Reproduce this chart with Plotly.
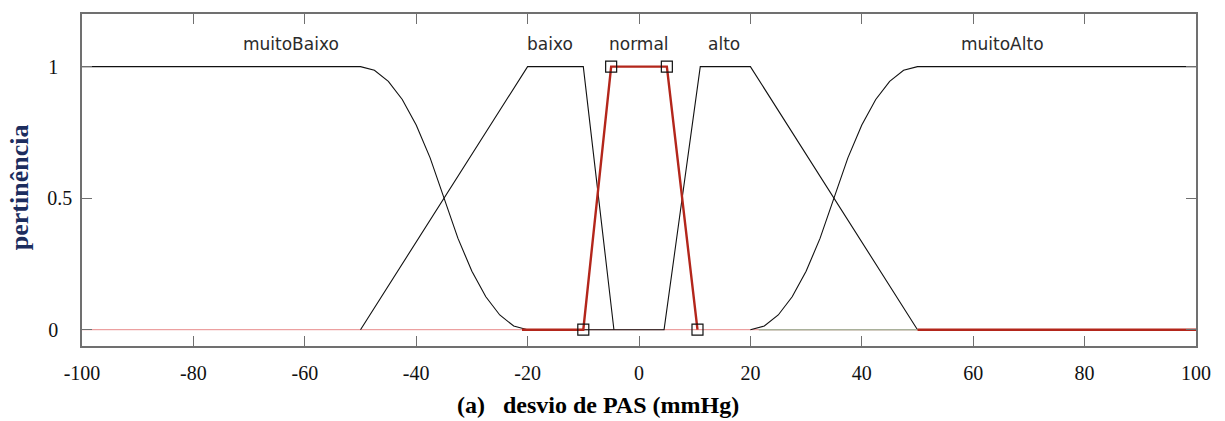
import plotly.graph_objects as go

# ---- data ----
mf_names = ["muitoBaixo", "baixo", "normal", "alto", "muitoAlto"]

x_muitoBaixo = [-100, -50, -47.5, -45, -42.5, -40, -37.5, -35, -32.5, -30, -27.5, -25, -22.5, -20]
y_muitoBaixo = [1, 1, 0.986, 0.944, 0.875, 0.778, 0.653, 0.5, 0.347, 0.222, 0.125, 0.056, 0.014, 0]

x_baixo = [-50, -20, -10, -4.5]
y_baixo = [0, 1, 1, 0]

x_normal = [-21, -10, -5, 5, 10.5, None, 50, 100]
y_normal = [0, 0, 1, 1, 0, None, 0, 0]
x_normal_pts = [-10, -5, 5, 10.5]
y_normal_pts = [0, 1, 1, 0]

x_alto = [-10, 4.5, 11, 20, 50]
y_alto = [0, 0, 1, 1, 0]

x_muitoAlto = [20, 22.5, 25, 27.5, 30, 32.5, 35, 37.5, 40, 42.5, 45, 47.5, 50, 100]
y_muitoAlto = [0, 0.014, 0.056, 0.125, 0.222, 0.347, 0.5, 0.653, 0.778, 0.875, 0.944, 0.986, 1, 1]
x_muitoAlto_tail = [21.5, 50]
y_muitoAlto_tail = [0, 0]

x_base = [-100, 100]
y_base = [0, 0]

x_ticks = [-100, -80, -60, -40, -20, 0, 20, 40, 60, 80, 100]
x_ticktext = ["-100", "-80", "-60", "-40", "-20", "0", "20", "40", "60", "80", "100"]
y_ticks = [0, 0.5, 1]
y_ticktext = ["0\u2007\u2009", "0.5", "1\u2007\u2009"]

x_label = "(a)\u00a0\u00a0\u00a0desvio de PAS (mmHg)"
y_label = "pertinência"

# ---- figure ----
fig = go.Figure()

fig.add_trace(go.Scatter(x=x_base, y=y_base, mode="lines",
                         line=dict(color="#e88a8a", width=1), hoverinfo="skip"))

black = dict(color="#111111", width=1.1)
fig.add_trace(go.Scatter(x=x_muitoBaixo, y=y_muitoBaixo, mode="lines", line=black))
fig.add_trace(go.Scatter(x=x_baixo, y=y_baixo, mode="lines", line=black))
fig.add_trace(go.Scatter(x=x_alto, y=y_alto, mode="lines", line=black))
fig.add_trace(go.Scatter(x=x_muitoAlto, y=y_muitoAlto, mode="lines", line=black))
fig.add_trace(go.Scatter(x=x_muitoAlto_tail, y=y_muitoAlto_tail, mode="lines",
                         line=dict(color="#a9b09a", width=1.4)))

fig.add_trace(go.Scatter(x=x_normal, y=y_normal, mode="lines",
                         line=dict(color="#b3261b", width=2.4), connectgaps=False))
fig.add_trace(go.Scatter(x=x_normal_pts, y=y_normal_pts, mode="markers",
                         marker=dict(symbol="square-open", size=11,
                                     color="#111111", line=dict(width=1.2))))

label_pos = {"muitoBaixo": -62.5, "baixo": -16, "normal": 0, "alto": 15.2, "muitoAlto": 65.3}
for name in mf_names:
    fig.add_annotation(x=label_pos[name], y=1.085, xref="x", yref="y", text=name,
                       showarrow=False,
                       font=dict(family="DejaVu Sans", size=17, color="#2b2b2b"))

fig.add_annotation(x=0.4635, y=-0.178, xref="paper", yref="paper", text="<b>" + x_label + "</b>",
                   showarrow=False, xanchor="center", yanchor="middle",
                   font=dict(family="Liberation Serif, Times New Roman", size=24, color="#000000"))
fig.add_annotation(x=-0.0554, y=0.479, xref="paper", yref="paper", text="<b>" + y_label + "</b>",
                   showarrow=False, textangle=-90, xanchor="center", yanchor="middle",
                   font=dict(family="Liberation Serif, Times New Roman", size=26, color="#1c2d5e"))

axis_common = dict(showgrid=False, zeroline=False, showline=True, linecolor="#707070",
                   linewidth=1.5, mirror="ticks", ticks="inside", ticklen=10,
                   tickcolor="#707070", tickwidth=1,
                   tickfont=dict(family="Liberation Serif, Times New Roman", size=20, color="#111111"))

fig.update_xaxes(range=[-100, 100], tickvals=x_ticks, ticktext=x_ticktext,
                 ticklabelstandoff=8, **axis_common)
fig.update_yaxes(range=[-0.062, 1.2], tickvals=y_ticks, ticktext=y_ticktext,
                 ticklabelstandoff=4, **axis_common)

fig.update_layout(width=1225, height=421, showlegend=False,
                  margin=dict(l=82, r=29, t=12, b=75),
                  paper_bgcolor="white", plot_bgcolor="white")

fig.write_html("out.html")
